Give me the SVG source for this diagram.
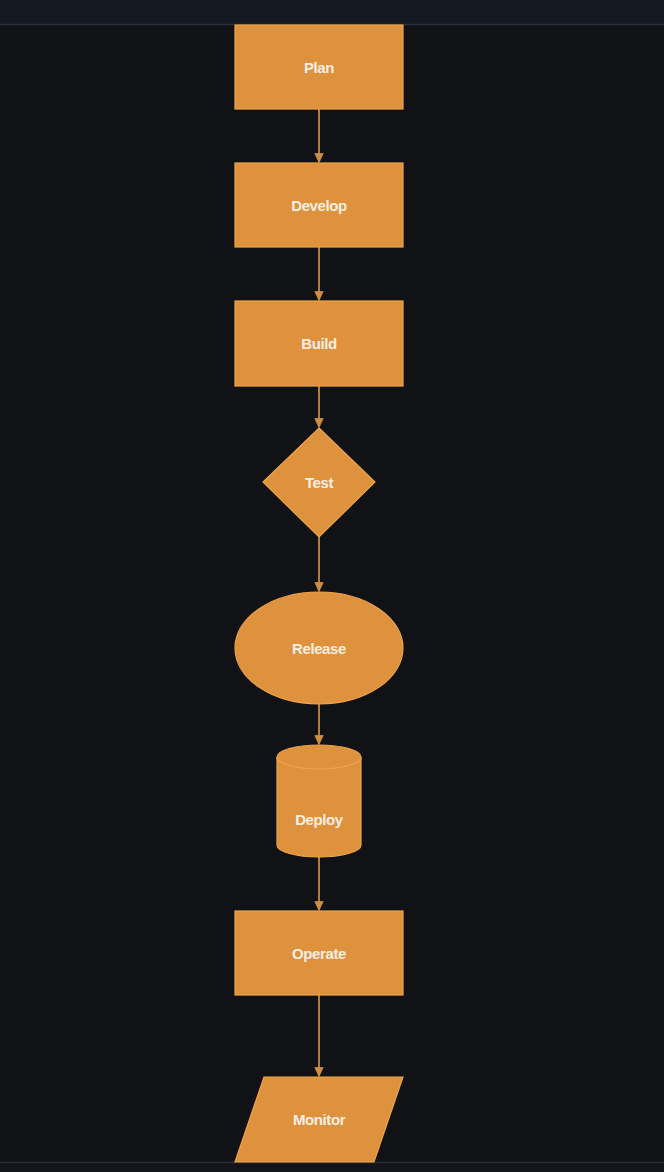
<svg xmlns="http://www.w3.org/2000/svg" width="664" height="1172" viewBox="0 0 664 1172">
<style>
.n{fill:#df923e;stroke:#f0a548;stroke-width:1.2}
.t{font-family:"Liberation Sans",Arial,sans-serif;font-weight:bold;font-size:15px;letter-spacing:-0.4px;fill:#f7efe3;text-anchor:middle;dominant-baseline:central}
.c{stroke:#c98a3e;stroke-width:1.8;fill:none}
</style>
<defs>
<marker id="ah" viewBox="0 0 10 10" refX="9" refY="5" markerWidth="10" markerHeight="11" orient="auto" markerUnits="userSpaceOnUse">
<path d="M0.5,0.8 L9.5,5 L0.5,9.2 Z" fill="#d08f40" stroke="#c98a3e" stroke-width="0.8"/>
</marker>
</defs>
<rect width="664" height="1172" fill="#111216"/>
<rect width="664" height="24" fill="#141821"/>
<line x1="0" y1="24.5" x2="664" y2="24.5" stroke="#2b2f39" stroke-width="1.5"/>
<rect y="1162" width="664" height="10" fill="#13151b"/>
<line x1="0" y1="1162.5" x2="664" y2="1162.5" stroke="#2b2f39" stroke-width="1.5"/>
<g id="connectors">
<line class="c" x1="319" y1="109" x2="319" y2="162" marker-end="url(#ah)"/>
<line class="c" x1="319" y1="247" x2="319" y2="300" marker-end="url(#ah)"/>
<line class="c" x1="319" y1="386" x2="319" y2="427" marker-end="url(#ah)"/>
<line class="c" x1="319" y1="537" x2="319" y2="591" marker-end="url(#ah)"/>
<line class="c" x1="319" y1="704" x2="319" y2="744" marker-end="url(#ah)"/>
<line class="c" x1="319" y1="857" x2="319" y2="910" marker-end="url(#ah)"/>
<line class="c" x1="319" y1="995" x2="319" y2="1076" marker-end="url(#ah)"/>
</g>
<g id="plan"><rect class="n" x="235" y="25" width="168" height="84"/><text class="t" x="319" y="67">Plan</text></g>
<g id="develop"><rect class="n" x="235" y="163" width="168" height="84"/><text class="t" x="319" y="205">Develop</text></g>
<g id="build"><rect class="n" x="235" y="301" width="168" height="85"/><text class="t" x="319" y="343">Build</text></g>
<g id="test"><polygon class="n" points="319,428 375,482 319,537 263,482"/><text class="t" x="319" y="482">Test</text></g>
<g id="release"><ellipse class="n" cx="319" cy="648" rx="84" ry="56"/><text class="t" x="319" y="648">Release</text></g>
<g id="deploy"><path class="n" d="M277,757 A42,12 0 0 1 361,757 L361,845 A42,12 0 0 1 277,845 Z"/><path d="M277,757 A42,12 0 0 0 361,757" fill="none" stroke="#f0a548" stroke-width="1.2"/><text class="t" x="319" y="819">Deploy</text></g>
<g id="operate"><rect class="n" x="235" y="911" width="168" height="84"/><text class="t" x="319" y="953">Operate</text></g>
<g id="monitor"><polygon class="n" points="264,1077 403,1077 374,1162 235,1162"/><text class="t" x="319" y="1119">Monitor</text></g>
</svg>
